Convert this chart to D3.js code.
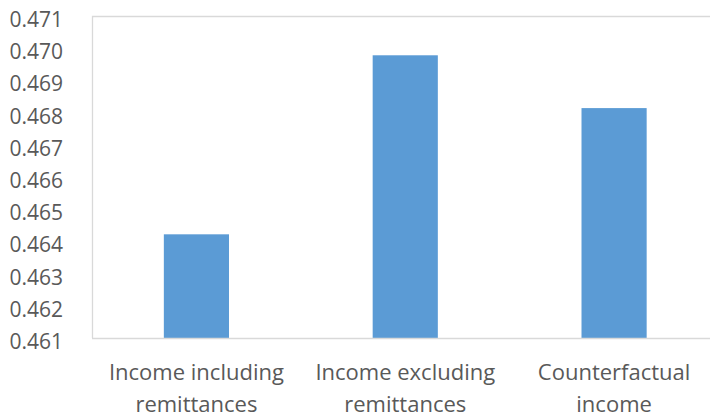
<!DOCTYPE html>
<html>
<head>
<meta charset="utf-8">
<script src="https://cdn.jsdelivr.net/npm/d3@7"></script>
<style>
  html, body { margin: 0; padding: 0; background: #fff; overflow: hidden; }
  svg { display: block; }
</style>
</head>
<body>
<svg id="chart" width="710" height="420"></svg>
<script>
const categories = [["Income including", "remittances"], ["Income excluding", "remittances"], ["Counterfactual", "income"]];
const values = [0.46422, 0.46978, 0.46814];
const yTicks = [0.461, 0.462, 0.463, 0.464, 0.465, 0.466, 0.467, 0.468, 0.469, 0.470, 0.471];

(function () {
const svg = d3.select("#chart");
const mLeft = 92, mTop = 16, mBottom = 338, mRight = 718.5;
const font = "'Open Sans', 'Noto Sans', sans-serif";
const textColor = "#595959";

const x = d3.scaleBand().domain(d3.range(values.length)).range([mLeft, mRight]).paddingInner(0.688).paddingOuter(0.344);
const y = d3.scaleLinear().domain([0.461, 0.471]).range([mBottom, mTop]);

// frame (left + top borders)
svg.append("path")
  .attr("d", `M${mLeft + 0.5},${mBottom} V${mTop + 0.5} H${710}`)
  .attr("fill", "none").attr("stroke", "#d9d9d9").attr("stroke-width", 1.3);

// bars
svg.selectAll("rect.bar").data(values).enter().append("rect")
  .attr("class", "bar")
  .attr("x", (d, i) => x(i))
  .attr("width", x.bandwidth())
  .attr("y", d => y(d))
  .attr("height", d => mBottom - y(d))
  .attr("fill", "#5b9bd5");

// y axis
const yAxis = d3.axisLeft(y).tickValues(yTicks).tickFormat(d3.format(".3f")).tickSize(0).tickPadding(29);
const gy = svg.append("g").attr("transform", `translate(${mLeft},0)`).call(yAxis);
gy.select(".domain").remove();
gy.selectAll("text").attr("fill", textColor).style("font-family", font).style("font-size", "21px").attr("dy", "0.5em");

// x axis
const xAxis = d3.axisBottom(x).tickSize(0).tickFormat("");
const gx = svg.append("g").attr("transform", `translate(0,${mBottom})`).call(xAxis);
gx.select(".domain").attr("stroke", "#d9d9d9").attr("stroke-width", 1.3).attr("d", `M${mLeft},0.5H710`);
gx.selectAll(".tick").each(function (d) {
  const t = d3.select(this).append("text")
    .attr("text-anchor", "middle")
    .attr("fill", textColor)
    .style("font-family", font).style("font-size", "22px");
  categories[d].forEach((line, k) => {
    t.append("tspan").attr("x", 0).attr("y", 42 + k * 32).text(line);
  });
});
})();
</script>
</body>
</html>
